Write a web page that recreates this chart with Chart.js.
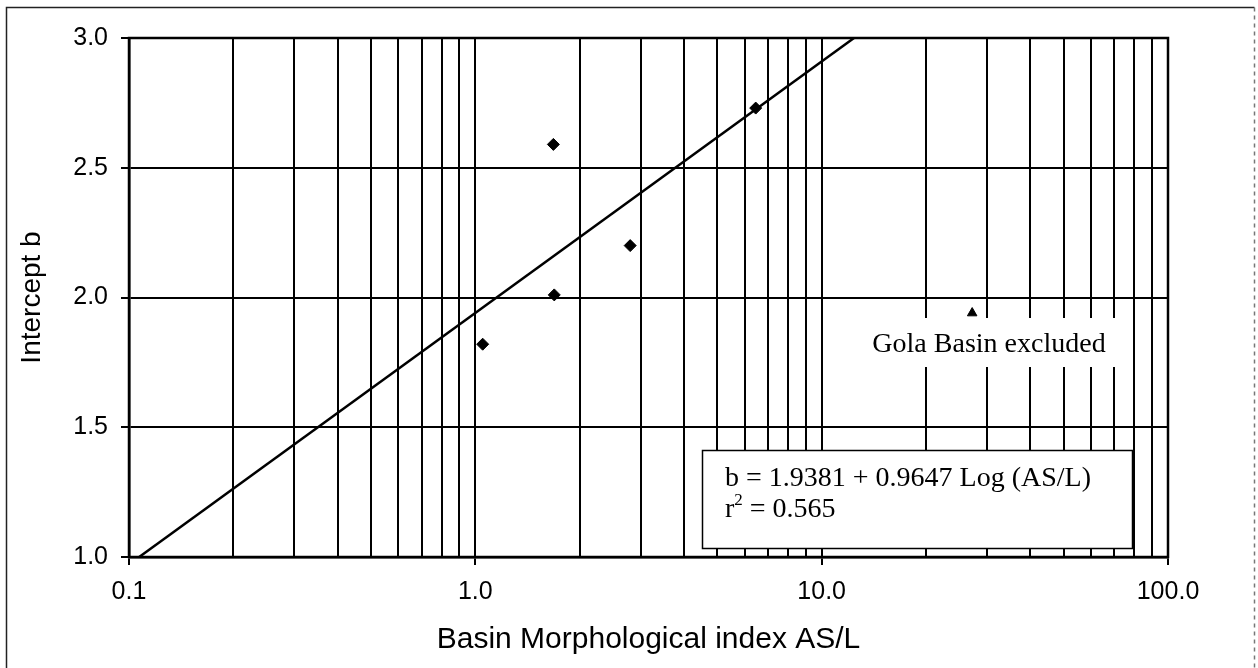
<!DOCTYPE html>
<html lang="en">
<head>
  <meta charset="UTF-8">
  <title>Intercept b vs Basin Morphological index</title>
  <script src="https://cdn.jsdelivr.net/npm/chart.js"></script>
  <style>
    html, body { margin: 0; padding: 0; background: #fff; }
    #wrap { position: relative; width: 1258px; height: 668px; }
  </style>
</head>
<body>
  <div id="wrap"><canvas id="chart" width="1258" height="668"></canvas></div>

  <script>
    // basins used in the fit
    const basinX = [1.05, 1.68, 1.69, 2.8, 6.45];
    const basinB = [1.82, 2.59, 2.01, 2.20, 2.73];
    // Gola basin, left out of the fit
    const golaX = [27.2];
    const golaB = [1.94];
    // regression line b = 1.9381 + 0.9647 log(AS/L), ends
    const fitX = [0.107, 12.4];
    const fitB = [1.0, 3.0];

    const xGridValues = [0.1, 0.2, 0.3, 0.4, 0.5, 0.6, 0.7, 0.8, 0.9,
                         1, 2, 3, 4, 5, 6, 7, 8, 9,
                         10, 20, 30, 40, 50, 60, 70, 80, 90, 100];
    const xMajorValues = [0.1, 1, 10, 100];
    const xTickLabels = ['0.1', '1.0', '10.0', '100.0'];
    const yTickValues = [1.0, 1.5, 2.0, 2.5, 3.0];

    const majorIndex = (v) => xMajorValues.findIndex((m) => Math.abs(m - v) < 1e-9);
    const serif = '"Liberation Serif", "Times New Roman", serif';

    const frame = {
      id: 'frame',
      afterDraw(chart) {
        const ctx = chart.ctx;
        const a = chart.chartArea;
        ctx.save();
        // plot box
        ctx.strokeStyle = '#000';
        ctx.lineWidth = 2.5;
        ctx.strokeRect(a.left, a.top, a.right - a.left, a.bottom - a.top);

        // outer frame round the whole figure
        ctx.lineWidth = 1.5;
        ctx.strokeStyle = '#222';
        ctx.beginPath();
        ctx.moveTo(6.5, 700);
        ctx.lineTo(6.5, 7.5);
        ctx.lineTo(1254.5, 7.5);
        ctx.stroke();
        ctx.setLineDash([4, 4]);
        ctx.strokeStyle = '#777';
        ctx.beginPath();
        ctx.moveTo(1254.5, 7.5);
        ctx.lineTo(1254.5, 700);
        ctx.stroke();
        ctx.setLineDash([]);

        // note for the excluded basin
        ctx.fillStyle = '#fff';
        ctx.fillRect(858, 318, 262, 49);
        ctx.fillStyle = '#000';
        ctx.font = '28px ' + serif;
        ctx.textAlign = 'center';
        ctx.textBaseline = 'middle';
        ctx.fillText('Gola Basin excluded', 989, 345);

        // equation box
        ctx.fillStyle = '#fff';
        ctx.fillRect(702, 450, 430, 98);
        ctx.lineWidth = 1.5;
        ctx.strokeStyle = '#000';
        ctx.strokeRect(702.5, 450.5, 430, 98);
        ctx.fillStyle = '#000';
        ctx.textAlign = 'left';
        ctx.textBaseline = 'alphabetic';
        ctx.fillText('b = 1.9381 + 0.9647 Log (AS/L)', 725, 486);
        ctx.fillText('r', 725, 517);
        const rw = ctx.measureText('r').width;
        ctx.font = '17px ' + serif;
        ctx.fillText('2', 725 + rw, 505);
        const sw = ctx.measureText('2').width;
        ctx.font = '28px ' + serif;
        ctx.fillText(' = 0.565', 725 + rw + sw, 517);
        ctx.restore();
      }
    };

    const ctx = document.getElementById('chart').getContext('2d');
    new Chart(ctx, {
      data: {
        datasets: [
          {
            type: 'line',
            label: 'Fit',
            data: fitX.map((x, i) => ({ x: x, y: fitB[i] })),
            borderColor: '#000',
            borderWidth: 2.5,
            pointRadius: 0,
            fill: false,
            order: 2
          },
          {
            type: 'scatter',
            label: 'Basins',
            data: basinX.map((x, i) => ({ x: x, y: basinB[i] })),
            pointStyle: 'rectRot',
            pointRadius: 6,
            backgroundColor: '#000',
            borderColor: '#000',
            order: 1
          },
          {
            type: 'scatter',
            label: 'Gola Basin',
            data: golaX.map((x, i) => ({ x: x, y: golaB[i] })),
            pointStyle: 'triangle',
            pointRadius: 5.5,
            backgroundColor: '#000',
            borderColor: '#000',
            order: 1
          }
        ]
      },
      options: {
        responsive: false,
        animation: false,
        layout: { padding: { left: 0, top: 38, right: 90, bottom: 0 } },
        plugins: { legend: { display: false }, tooltip: { enabled: false } },
        scales: {
          x: {
            type: 'logarithmic',
            min: 0.1,
            max: 100,
            afterBuildTicks: (scale) => {
              scale.ticks = xGridValues.map((v) => ({ value: v }));
            },
            afterFit: (scale) => { scale.height = 111; },
            ticks: {
              autoSkip: false,
              maxRotation: 0,
              padding: 12,
              color: '#000',
              font: { family: 'Liberation Sans, Arial, sans-serif', size: 25 },
              callback: (v) => {
                const i = majorIndex(v);
                return i >= 0 ? xTickLabels[i] : '';
              }
            },
            grid: {
              color: '#000',
              lineWidth: 2,
              tickLength: 8,
              tickColor: (c) => (c.tick && majorIndex(c.tick.value) >= 0 ? '#000' : 'rgba(0,0,0,0)')
            },
            border: { color: '#000', width: 2.5 },
            title: {
              display: true,
              text: 'Basin Morphological index AS/L',
              color: '#000',
              font: { family: 'Liberation Sans, Arial, sans-serif', size: 30 },
              padding: { top: 0, bottom: 10 }
            }
          },
          y: {
            type: 'linear',
            min: yTickValues[0],
            max: yTickValues[yTickValues.length - 1],
            afterBuildTicks: (scale) => {
              scale.ticks = yTickValues.map((v) => ({ value: v }));
            },
            afterFit: (scale) => { scale.width = 129; },
            ticks: {
              padding: 13,
              color: '#000',
              font: { family: 'Liberation Sans, Arial, sans-serif', size: 25 },
              callback: (v) => Number(v).toFixed(1)
            },
            grid: { color: '#000', lineWidth: 2, tickLength: 8 },
            border: { color: '#000', width: 2.5 },
            title: {
              display: true,
              text: 'Intercept b',
              color: '#000',
              font: { family: 'Liberation Sans, Arial, sans-serif', size: 28 },
              padding: { top: 15, bottom: 0 }
            }
          }
        }
      },
      plugins: [frame]
    });
  </script>
</body>
</html>
